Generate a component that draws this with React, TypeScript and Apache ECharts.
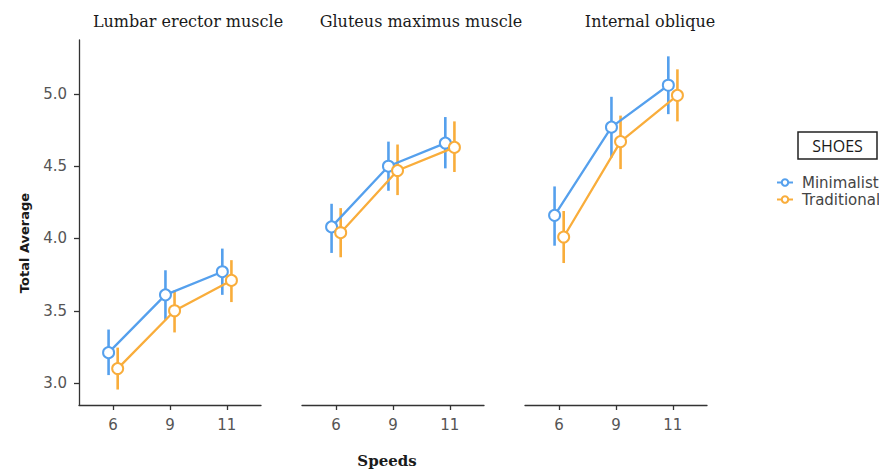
import React, { useEffect, useRef } from "react";
import * as echarts from "echarts";

const panelTitles = ["Lumbar erector muscle", "Gluteus maximus muscle", "Internal oblique"];
const speeds = ["6", "9", "11"];
const yTicks = [3.0, 3.5, 4.0, 4.5, 5.0];
const seriesNames = ["Minimalist", "Traditional"];

const minimalistMean = [
  [3.21, 3.61, 3.77],
  [4.08, 4.5, 4.66],
  [4.16, 4.77, 5.06],
];
const minimalistLow = [
  [3.055, 3.435, 3.61],
  [3.9, 4.33, 4.485],
  [3.95, 4.56, 4.86],
];
const minimalistHigh = [
  [3.37, 3.78, 3.93],
  [4.24, 4.67, 4.84],
  [4.36, 4.98, 5.26],
];
const traditionalMean = [
  [3.1, 3.5, 3.71],
  [4.04, 4.47, 4.63],
  [4.01, 4.67, 4.99],
];
const traditionalLow = [
  [2.955, 3.35, 3.56],
  [3.87, 4.3, 4.46],
  [3.83, 4.48, 4.81],
];
const traditionalHigh = [
  [3.245, 3.64, 3.85],
  [4.21, 4.65, 4.81],
  [4.19, 4.85, 5.17],
];

const BLUE = "#55A0ED";
const ORANGE = "#F9AD3B";
const AXIS = "#333333";
const LABEL = "#555555";

export default function App() {
  const ref = useRef<HTMLDivElement>(null);

  useEffect(() => {
    if (!ref.current) return;
    const chart = echarts.init(ref.current, undefined, { renderer: "svg" });

    const gridLefts = [79, 302, 525];
    const grids = gridLefts.map((l) => ({ left: l, top: 40, width: 182, height: 365 }));

    const xAxes = gridLefts.map((_, i) => ({
      type: "value",
      gridIndex: i,
      min: -0.6,
      max: 2.6,
      splitLine: { show: false },
      axisLine: { onZero: false, lineStyle: { color: AXIS, width: 1.3 } },
      axisTick: { show: true, length: 5, lineStyle: { color: AXIS, width: 1.3 }, customValues: [0, 1, 2] },
      axisLabel: {
        customValues: [0, 1, 2],
        formatter: (v: number) => speeds[Math.round(v)],
        color: LABEL,
        fontFamily: "DejaVu Sans",
        fontSize: 15,
        margin: 12,
      },
    }));

    const yAxes = gridLefts.map((_, i) => ({
      type: "value",
      gridIndex: i,
      min: 2.848,
      max: 5.373,
      show: i === 0,
      splitLine: { show: false },
      axisLine: { show: true, onZero: false, lineStyle: { color: AXIS, width: 1.3 } },
      axisTick: { show: true, length: 5, lineStyle: { color: AXIS, width: 1.3 }, customValues: yTicks },
      axisLabel: {
        customValues: yTicks,
        formatter: (v: number) => v.toFixed(1),
        color: LABEL,
        fontFamily: "DejaVu Sans",
        fontSize: 15,
        margin: 12,
      },
    }));

    const dodge = 0.08;
    const series: any[] = [];
    const groups = [
      { name: seriesNames[0], mean: minimalistMean, low: minimalistLow, high: minimalistHigh, color: BLUE, off: -dodge, z: 2 },
      { name: seriesNames[1], mean: traditionalMean, low: traditionalLow, high: traditionalHigh, color: ORANGE, off: dodge, z: 3 },
    ];

    for (let p = 0; p < 3; p++) {
      for (const g of groups) {
        const color = g.color;
        series.push({
          type: "custom",
          name: g.name + " error",
          xAxisIndex: p,
          yAxisIndex: p,
          z: 1,
          encode: { x: 0, y: [1, 2] },
          data: speeds.map((_, i) => [i + g.off, g.low[p][i], g.high[p][i]]),
          renderItem: (params: any, api: any) => {
            const a = api.coord([api.value(0), api.value(1)]);
            const b = api.coord([api.value(0), api.value(2)]);
            return {
              type: "line",
              shape: { x1: a[0], y1: a[1], x2: b[0], y2: b[1] },
              style: { stroke: color, lineWidth: 2.6 },
            };
          },
        });
        series.push({
          type: "line",
          name: g.name,
          xAxisIndex: p,
          yAxisIndex: p,
          z: g.z,
          symbol: "emptyCircle",
          symbolSize: 11,
          lineStyle: { color, width: 2.3 },
          itemStyle: { color, borderWidth: 1.5 },
          data: speeds.map((_, i) => [i + g.off, g.mean[p][i]]),
        });
      }
    }

    const titleCenters = [188, 421, 650];

    chart.setOption({
      animation: false,
      grid: grids,
      xAxis: xAxes,
      yAxis: yAxes,
      legend: {
        data: seriesNames,
        orient: "vertical",
        left: 771,
        top: 170,
        itemWidth: 16,
        itemHeight: 8,
        itemGap: 2,
        textStyle: {
          color: "#444",
          fontFamily: "DejaVu Sans",
          fontSize: 15,
          lineHeight: 14,
          padding: [0, 0, 0, 4],
        },
      },
      graphic: [
        ...panelTitles.map((t, i) => ({
          type: "text",
          x: titleCenters[i],
          y: 21,
          style: {
            text: t,
            font: '16px "DejaVu Serif"',
            fill: "#1a1a1a",
            align: "center",
            verticalAlign: "middle",
          },
        })),
        {
          type: "text",
          x: 387,
          y: 461,
          style: {
            text: "Speeds",
            font: 'bold 15px "DejaVu Serif"',
            fill: "#1a1a1a",
            align: "center",
            verticalAlign: "middle",
          },
        },
        {
          type: "text",
          x: 24,
          y: 243,
          rotation: Math.PI / 2,
          style: {
            text: "Total Average",
            font: 'bold 13px "DejaVu Sans"',
            fill: "#1a1a1a",
            align: "center",
            verticalAlign: "middle",
          },
        },
        {
          type: "rect",
          shape: { x: 798, y: 132, width: 79, height: 27 },
          style: { fill: "#fff", stroke: "#222", lineWidth: 1.5 },
        },
        {
          type: "text",
          x: 837.5,
          y: 146,
          style: {
            text: "SHOES",
            font: '500 16px "Open Sans"',
            fill: "#1a1a1a",
            align: "center",
            verticalAlign: "middle",
          },
        },
      ],
      series,
    });

    return () => chart.dispose();
  }, []);

  return (
    <div
      ref={ref}
      style={{ position: "absolute", left: 0, top: 0, width: 879, height: 471, background: "#fff" }}
    />
  );
}
